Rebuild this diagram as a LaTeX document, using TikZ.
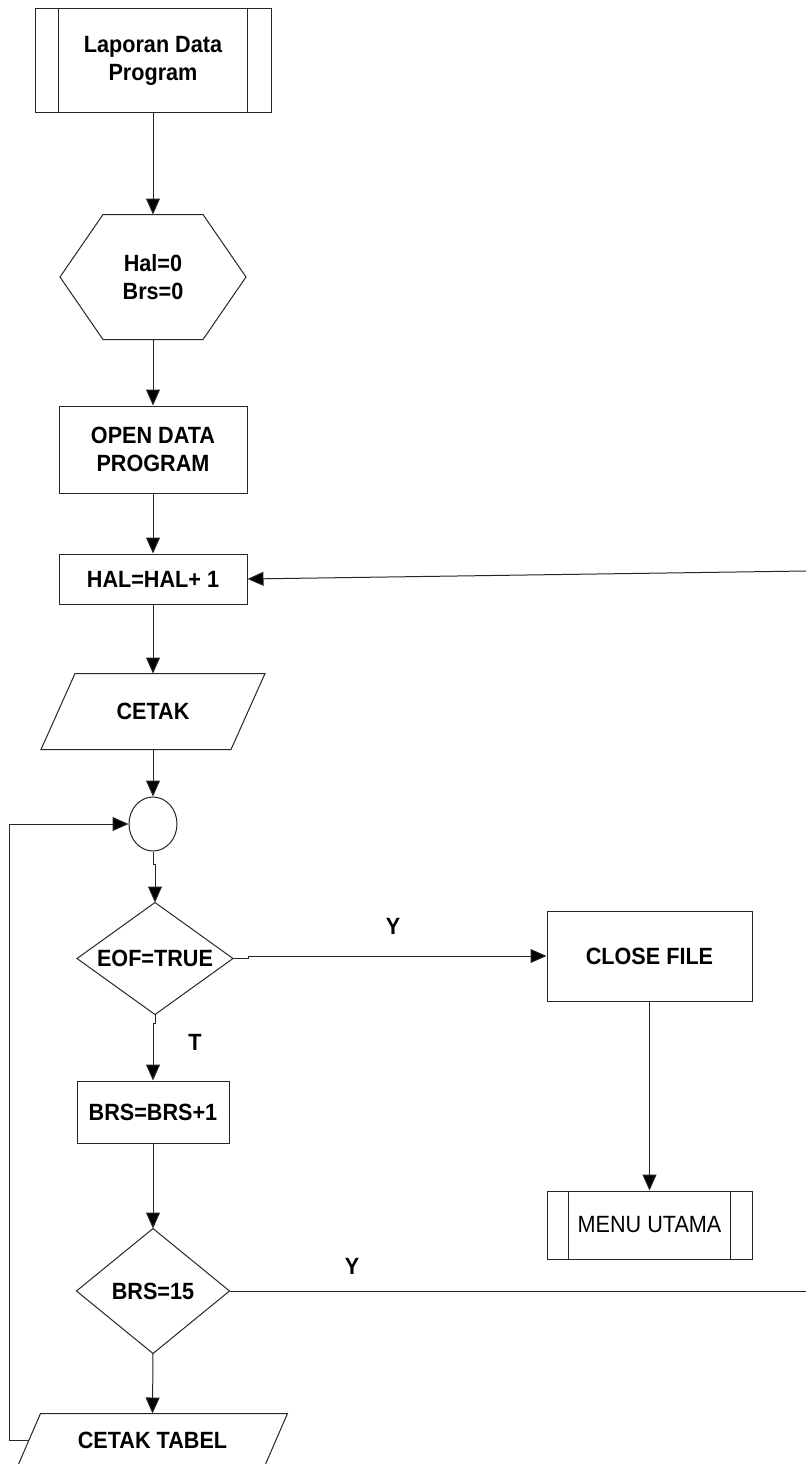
\documentclass[tikz,border=0pt]{standalone}
\usepackage{fontspec}
\setmainfont{Liberation Sans}[FakeStretch=0.92]
\usetikzlibrary{arrows.meta,shapes.geometric,calc}
\begin{document}
\begin{tikzpicture}[x=1pt,y=-1pt,
  line width=1pt,
  txt/.style={font=\fontsize{23.5}{28}\selectfont\bfseries, align=center, inner sep=0pt, text=black},
  box/.style={txt, draw=black!85, rectangle},
  ghost/.style={txt, rectangle},
  arr/.style={draw=black!85, -{Triangle[length=16pt,width=14pt,fill=black]}},
  ln/.style={draw=black!85},
]
\useasboundingbox (0,0) rectangle (806,1464);

% nodes
\node[box, minimum width=236pt, minimum height=103pt] (lap) at (153,60.5) {Laporan Data\\Program};
\draw[ln] ([xshift=24pt]lap.north west) -- ([xshift=24pt]lap.south west);
\draw[ln] ([xshift=-24pt]lap.north east) -- ([xshift=-24pt]lap.south east);

\node[ghost, minimum width=185pt, minimum height=124pt] (hex) at (153,277) {Hal=0\\Brs=0};
\draw[ln] ([xshift=-50pt]hex.north) -- ([xshift=50pt]hex.north) -- (hex.east) -- ([xshift=50pt]hex.south) -- ([xshift=-50pt]hex.south) -- (hex.west) -- cycle;

\node[box, minimum width=188pt, minimum height=87pt] (open) at (153,449.5) {OPEN DATA\\PROGRAM};
\node[box, minimum width=188pt, minimum height=50pt] (hal) at (153,579) {HAL=HAL+ 1};

\node[ghost, minimum width=189pt, minimum height=75pt] (cetak) at (153,711.5) {CETAK};
\draw[ln] ([xshift=17pt]cetak.north west) -- ([xshift=17pt]cetak.north east) -- ([xshift=-17pt]cetak.south east) -- ([xshift=-17pt]cetak.south west) -- cycle;

\node[draw=black!85, ellipse, minimum width=48pt, minimum height=54pt, inner sep=0pt] (circ) at (153,824) {};

\node[ghost, minimum width=155pt, minimum height=111pt] (eof) at (155,958.5) {EOF=TRUE};
\draw[ln] (eof.north) -- (eof.east) -- (eof.south) -- (eof.west) -- cycle;

\node[box, minimum width=205pt, minimum height=90pt] (close) at (649.5,956) {CLOSE FILE};

\node[box, minimum width=152pt, minimum height=62pt] (brs) at (153,1112) {BRS=BRS+1};

\node[ghost, minimum width=152pt, minimum height=124pt] (brs15) at (153,1291) {BRS=15};
\draw[ln] (brs15.north) -- (brs15.east) -- (brs15.south) -- (brs15.west) -- cycle;

\node[box, font=\fontsize{23.5}{28}\selectfont, minimum width=205pt, minimum height=68pt] (menu) at (649.5,1225) {MENU UTAMA};
\draw[ln] ([xshift=22pt]menu.north west) -- ([xshift=22pt]menu.south west);
\draw[ln] ([xshift=-22pt]menu.north east) -- ([xshift=-22pt]menu.south east);

\node[ghost, minimum width=246pt, minimum height=52pt] (cetakt) at (152.5,1440) {CETAK TABEL};
\draw[ln] ([xshift=11.5pt]cetakt.north west) -- ([xshift=11.5pt]cetakt.north east) -- ([xshift=-11.5pt]cetakt.south east) -- ([xshift=-11.5pt]cetakt.south west) -- cycle;

% labels
\node[txt] (ly) at (393,926) {Y};
\node[txt] (lt) at (195,1042) {T};
\node[txt] (ly2) at (352,1266) {Y};

% free ends
\coordinate (r1) at (806,571);
\coordinate (r2) at (806,1291);
\coordinate (lp) at (9,1440);

% connectors
\draw[arr] (lap.south) -- (hex.north);
\draw[arr] (hex.south) -- (open.north);
\draw[arr] (open.south) -- (hal.north);
\draw[arr] (hal.south) -- (cetak.north);
\draw[arr] (cetak.south) -- (circ.north);
\draw[arr] (circ.south) -- ++(0,13) -| (eof.north);
\draw[arr] (eof.east) -- ++(15,0) |- (close.west);
\draw[arr] (eof.south) -- ++(0,9) -| (brs.north);
\draw[arr] (close.south) -- (menu.north);
\draw[arr] (brs.south) -- (brs15.north);
\draw[arr] (brs15.south) -- (cetakt.north);
\draw[ln] (brs15.east) -- (r2);
\draw[arr] (r1) -- (hal.east);
\draw[arr] (cetakt.west) -- (lp) |- (circ.west);
\end{tikzpicture}
\end{document}
